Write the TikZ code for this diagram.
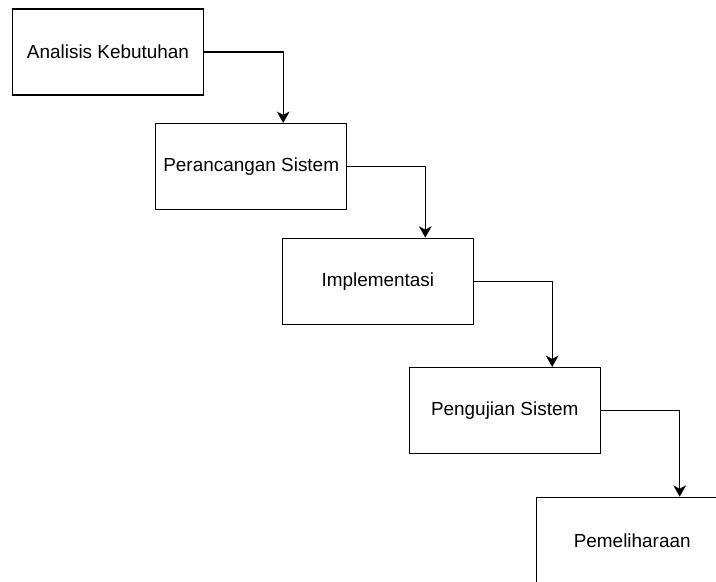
\documentclass[tikz,border=0pt]{standalone}
\usepackage{fontspec}
\setmainfont{Liberation Sans}
\usetikzlibrary{arrows.meta}

\tikzset{
  stage/.style={draw, line width=0.9pt, minimum width=143.25pt, minimum height=64.5pt,
    inner sep=0pt, font=\fontsize{14.2pt}{17pt}\selectfont},
  flow/.style={-{Stealth[length=8.5pt,width=9.5pt,inset=2.5pt]}, line width=0.9pt}
}

\begin{document}
\begin{tikzpicture}[x=0.75pt, y=-0.75pt]
    % Frame of the picture (the last stage runs off the edge)
    \useasboundingbox (0,0) rectangle (716,581);

    % Stages:
    % placed at coordinates, each one step down and to the right
    \node[stage] (A) at (108,52)    {Analisis Kebutuhan};
    \node[stage] (P) at (251.2,166.5) {Perancangan Sistem};
    \node[stage] (I) at (377.8,281.2) {Implementasi};
    \node[stage] (U) at (504.7,410.5) {Pengujian Sistem};
    \node[stage] (M) at (632.2,540.3) {Pemeliharaan};

    % Connectors:
    % out of the right side, then down onto the next stage
    \draw[flow] (A.east) -| ([xshift=24pt]P.north);
    \draw[flow] (P.east) -| ([xshift=35.6pt]I.north);
    \draw[flow] (I.east) -| ([xshift=35.6pt]U.north);
    \draw[flow] (U.east) -| ([xshift=35.6pt]M.north);
\end{tikzpicture}
\end{document}
